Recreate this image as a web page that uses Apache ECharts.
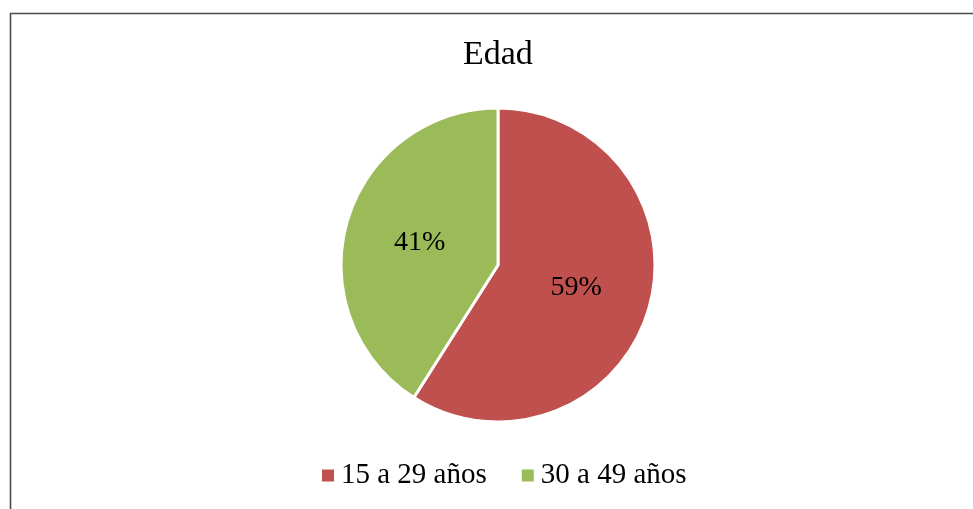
<!DOCTYPE html>
<html>
<head>
<meta charset="utf-8">
<title>Edad</title>
<script src="https://cdn.jsdelivr.net/npm/echarts@6/dist/echarts.min.js"></script>
<style>
  html, body { margin: 0; padding: 0; background: #fff; }
  #chart { width: 973px; height: 509px; }
</style>
</head>
<body>
<div id="chart"></div>
<script>
// age groups and their share (%)
const categories = ['15 a 29 años', '30 a 49 años']
const values = [59, 41]
const colors = ['#C0504D', '#9BBB59']

const serif = 'Liberation Serif, Times New Roman, serif'

const chart = echarts.init(document.getElementById('chart'))
chart.setOption({
  animation: false,
  title: {
    text: 'Edad',
    left: 463,
    top: 38,
    padding: 0,
    textStyle: { fontFamily: serif, fontSize: 34, fontWeight: 'normal', color: '#000' }
  },
  legend: {
    top: 461,
    left: 320,
    padding: 0,
    icon: 'rect',
    itemWidth: 14,
    itemHeight: 14,
    itemGap: 33,
    data: categories,
    textStyle: { fontFamily: serif, fontSize: 29, color: '#000', padding: [0, 0, 0, 1] }
  },
  graphic: [{
    type: 'rect',
    shape: { x: 10.5, y: 13.5, width: 1100, height: 700 },
    style: { fill: 'none', stroke: '#4a4a4a', lineWidth: 1.6 },
    silent: true
  }],
  series: [{
    type: 'pie',
    center: [498, 265],
    radius: 157,
    startAngle: 90,
    clockwise: true,
    color: colors,
    itemStyle: { borderColor: '#fff', borderWidth: 3 },
    label: {
      position: 'inside',
      formatter: '{d}%',
      fontFamily: serif,
      fontSize: 28,
      color: '#000'
    },
    labelLine: { show: false },
    emphasis: { disabled: true },
    data: categories.map((name, i) => ({ name, value: values[i] }))
  }]
})
</script>
</body>
</html>
